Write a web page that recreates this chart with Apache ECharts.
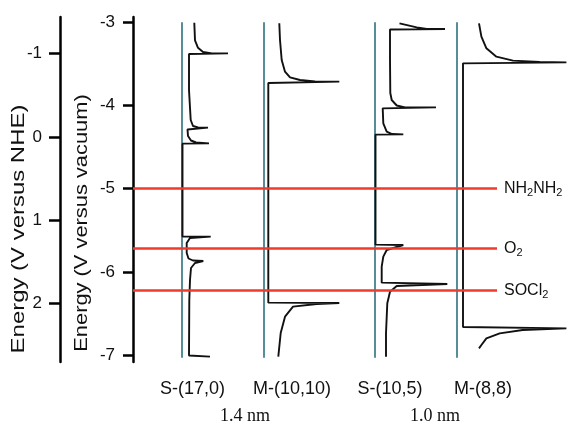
<!DOCTYPE html>
<html>
<head>
<meta charset="utf-8">
<script src="https://cdn.jsdelivr.net/npm/echarts@6/dist/echarts.min.js"></script>
<style>
  html, body { margin: 0; padding: 0; background: #fff; }
  #chart { width: 571px; height: 423px; }
</style>
</head>
<body>
<div id="chart"></div>
<script>
var vacuumTicks = [-7, -6, -5, -4, -3]
var nheTicks = [-1, 0, 1, 2]
var nheShift = -4.38 // E(vacuum) = nheShift - E(NHE)
var panelNames = ['S-(17,0)', 'M-(10,10)', 'S-(10,5)', 'M-(8,8)']
var diameters = ['1.4 nm', '1.0 nm']
var redoxEnergy = [-5.0, -5.72, -6.22]
var redoxNames = ['NH2NH2', 'O2', 'SOCl2']

// density of states (arb. units) vs energy (V versus vacuum)
var dosS170 = [
  [12.8, -3.01], [13.5, -3.22], [16.5, -3.31], [21.5, -3.36], [30.5, -3.376], [46.5, -3.376],
  [7.5, -3.384], [7.5, -3.816], [9.2, -4.176], [11.5, -4.248], [16.5, -4.266], [26.5, -4.268],
  [6, -4.29], [6.5, -4.368], [9.5, -4.422], [14.5, -4.446], [27.5, -4.456], [1, -4.46],
  [1, -5.574], [29.2, -5.576], [8.5, -5.592], [5.2, -5.652], [5.2, -5.772], [7, -5.838],
  [11.5, -5.862], [21.8, -5.868], [13.5, -5.892], [9.5, -5.952], [8.5, -6.096], [7.8, -6.336],
  [7.5, -7.002], [28.5, -7.016]
]
var dosM1010 = [
  [15.3, -3.016], [16, -3.216], [17.7, -3.456], [21, -3.596], [26, -3.664], [36, -3.696],
  [51, -3.712], [75.3, -3.716], [4.3, -3.732], [4.3, -6.368], [75.3, -6.372], [52.7, -6.384],
  [29, -6.416], [21, -6.536], [16.7, -6.732], [14.3, -7.016]
]
var dosS105 = [
  [25, -3.016], [42.2, -3.064], [52.2, -3.084], [70.5, -3.084], [15.5, -3.09], [15.5, -3.456],
  [15.8, -3.852], [17.2, -3.936], [22.2, -4.002], [30.5, -4.024], [61.5, -4.024], [8.2, -4.036],
  [8.8, -4.216], [12.2, -4.316], [17.5, -4.344], [28.8, -4.348], [1, -4.352], [1, -5.672],
  [28.8, -5.676], [12.2, -5.736], [8.8, -5.816], [7.2, -5.936], [7.2, -6.128], [72.8, -6.144],
  [22.2, -6.168], [15.5, -6.236], [12.8, -6.376], [11.5, -6.736], [11.5, -7.016]
]
var dosM88 = [
  [22, -3.016], [24.4, -3.176], [29.4, -3.316], [39.4, -3.416], [56, -3.464], [82.7, -3.48],
  [109.4, -3.484], [6, -3.496], [6, -6.66], [109.4, -6.676], [65.7, -6.696], [42.7, -6.736],
  [29.4, -6.796], [24.4, -6.876], [22, -6.916]
]
var panelData = [dosS170, dosM1010, dosS105, dosM88]

var chart = echarts.init(document.getElementById('chart'))

var sans = '"Liberation Sans", Arial, sans-serif'
var vacMin = -7.08
var vacMax = -2.94
var baselines = [181.5, 264, 374.5, 457]
var labelOffset = [11, 28, 15.5, 26]
var teal = '#568d96'
var red = '#f03a2a'

var grids = [{ left: 133, top: 17, width: 364, height: 345 }]
var xAxes = [{ type: 'value', gridIndex: 0, min: 0, max: 1, show: false }]
var yAxes = [{
  type: 'value', gridIndex: 0, position: 'left', min: vacMin, max: vacMax,
  axisLine: { show: true, lineStyle: { color: '#000', width: 2.5 } },
  axisTick: { show: true, inside: false, length: 10, lineStyle: { color: '#000', width: 2.5 }, customValues: vacuumTicks },
  axisLabel: { margin: 18, fontSize: 17, fontFamily: sans, color: '#111', customValues: vacuumTicks },
  splitLine: { show: false }
}, {
  type: 'value', gridIndex: 0, position: 'left', offset: 73, inverse: true,
  min: nheShift - vacMax, max: nheShift - vacMin,
  axisLine: { show: true, lineStyle: { color: '#000', width: 2.5 } },
  axisTick: { show: true, inside: false, length: 11, lineStyle: { color: '#000', width: 2.5 }, customValues: nheTicks },
  axisLabel: { margin: 18, fontSize: 17, fontFamily: sans, color: '#111', customValues: nheTicks },
  splitLine: { show: false }
}]

var series = [{
  type: 'line', xAxisIndex: 0, yAxisIndex: 0, data: [], silent: true,
  markLine: {
    silent: true, symbol: ['none', 'none'], animation: false,
    lineStyle: { color: red, width: 2.5, type: 'solid' },
    label: {
      show: true, position: 'end', distance: 7, color: '#111',
      formatter: function (p) { return p.name.replace(/(\d)/g, '{s|$1}') },
      fontSize: 16, fontFamily: sans,
      rich: { s: { fontSize: 11, fontFamily: sans, color: '#111', padding: [9, 0, 0, 0] } }
    },
    data: redoxEnergy.map(function (e, i) { return { name: redoxNames[i], yAxis: e } })
  }
}]

panelData.forEach(function (d, i) {
  grids.push({ left: baselines[i], top: 23, width: 110, height: 334 })
  xAxes.push({ type: 'value', gridIndex: i + 1, min: 0, max: 110, show: false })
  yAxes.push({
    type: 'value', gridIndex: i + 1, min: -7.02, max: -3.012,
    axisLine: { show: true, lineStyle: { color: teal, width: 2 } },
    axisTick: { show: false }, axisLabel: { show: false }, splitLine: { show: false }
  })
  series.push({
    name: panelNames[i], type: 'line', xAxisIndex: i + 1, yAxisIndex: i + 2,
    data: d, showSymbol: false, symbol: 'none', clip: false,
    lineStyle: { color: '#111', width: 1.9 }
  })
})

var graphics = [{
  type: 'text', x: 19, y: 229, rotation: Math.PI / 2, scaleX: 1.26,
  style: { text: 'Energy (V versus NHE)', font: '19px ' + sans, fill: '#111', align: 'center', verticalAlign: 'middle' }
}, {
  type: 'text', x: 82, y: 223, rotation: Math.PI / 2, scaleX: 1.15,
  style: { text: 'Energy (V versus vacuum)', font: '19px ' + sans, fill: '#111', align: 'center', verticalAlign: 'middle' }
}]
panelNames.forEach(function (n, i) {
  graphics.push({
    type: 'text', x: baselines[i] + labelOffset[i], y: 389,
    style: { text: n, font: '18px ' + sans, fill: '#111', align: 'center', verticalAlign: 'middle' }
  })
})
var diameterX = [245, 435]
diameters.forEach(function (t, i) {
  graphics.push({
    type: 'text', x: diameterX[i], y: 416,
    style: { text: t, font: '18px "Liberation Serif", "Times New Roman", serif', fill: '#111', align: 'center', verticalAlign: 'middle' }
  })
})

chart.setOption({
  animation: false,
  grid: grids,
  xAxis: xAxes,
  yAxis: yAxes,
  series: series,
  graphic: graphics
})
</script>
</body>
</html>
